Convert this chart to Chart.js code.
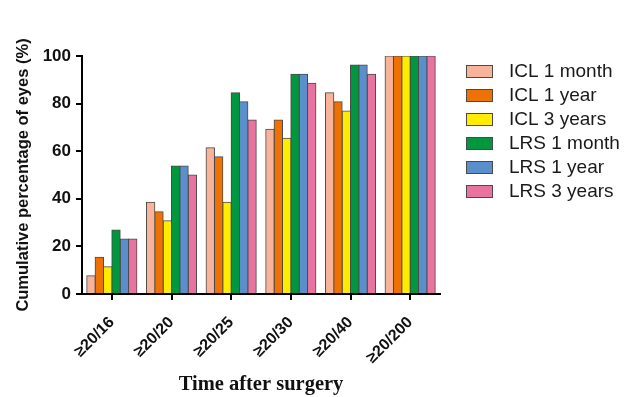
<!DOCTYPE html>
<html>
<head>
<meta charset="utf-8">
<script src="https://cdn.jsdelivr.net/npm/chart.js@4/dist/chart.umd.min.js"></script>
<style>
  html, body { margin: 0; padding: 0; background: #fff; }
  #wrap { width: 624px; height: 397px; position: relative; }
</style>
</head>
<body>
<div id="wrap"><canvas id="c" width="624" height="397"></canvas></div>
<script>
// Visual acuity thresholds (x categories)
const categories = ['≥20/16', '≥20/20', '≥20/25', '≥20/30', '≥20/40', '≥20/200'];

// Series names
const seriesNames = ['ICL 1 month', 'ICL 1 year', 'ICL 3 years', 'LRS 1 month', 'LRS 1 year', 'LRS 3 years'];

// Cumulative percentage of eyes for each series
const icl1Month  = [7.7, 38.5, 61.5, 69.2, 84.6, 100];
const icl1Year   = [15.4, 34.6, 57.7, 73.1, 80.8, 100];
const icl3Years  = [11.5, 30.8, 38.5, 65.4, 76.9, 100];
const lrs1Month  = [26.9, 53.8, 84.6, 92.3, 96.2, 100];
const lrs1Year   = [23.1, 53.8, 80.8, 92.3, 96.2, 100];
const lrs3Years  = [23.1, 50.0, 73.1, 88.5, 92.3, 100];

const yTicks = [0, 20, 40, 60, 80, 100];

const seriesValues = [icl1Month, icl1Year, icl3Years, lrs1Month, lrs1Year, lrs3Years];
const seriesColors = ['#F8B49B', '#EE7203', '#FFEC00', '#00973F', '#5B8FCC', '#E7739E'];

const datasets = seriesNames.map((name, i) => ({
  label: name,
  data: seriesValues[i],
  backgroundColor: seriesColors[i],
  borderColor: '#4a4a4a',
  borderWidth: 1,
  borderSkipped: 'bottom',
  inflateAmount: 0.5,
  barPercentage: 1.0,
  categoryPercentage: 0.84
}));

// Legend drawn to the right of the plot: swatch + label for each dataset
const sideLegend = {
  id: 'sideLegend',
  afterDraw(chart) {
    const ctx = chart.ctx;
    const x0 = chart.chartArea.right + 26;
    const y0 = chart.chartArea.top + 9;
    const rowH = 24;
    ctx.save();
    ctx.font = '19px "Liberation Sans", Arial, sans-serif';
    ctx.textBaseline = 'middle';
    ctx.textAlign = 'left';
    chart.data.datasets.forEach((ds, i) => {
      const y = y0 + i * rowH;
      ctx.fillStyle = ds.backgroundColor;
      ctx.fillRect(x0, y, 27, 13);
      ctx.strokeStyle = '#4a4a4a';
      ctx.lineWidth = 1;
      ctx.strokeRect(x0 + 0.5, y + 0.5, 26, 12);
      ctx.fillStyle = '#1a1a1a';
      ctx.fillText(ds.label, x0 + 43, y + 7);
    });
    ctx.restore();
  }
};

new Chart(document.getElementById('c'), {
  type: 'bar',
  data: { labels: categories, datasets },
  plugins: [sideLegend],
  options: {
    responsive: false,
    animation: false,
    devicePixelRatio: 1,
    layout: { padding: { top: 56, right: 184, left: 9, bottom: 0 } },
    plugins: {
      tooltip: { enabled: false },
      legend: { display: false }
    },
    scales: {
      x: {
        offset: true,
        afterFit: (scale) => { scale.height = 103; },
        border: { display: true, color: '#000', width: 2 },
        grid: { display: true, drawOnChartArea: false, drawTicks: true, tickLength: 6, offset: false, color: '#000', lineWidth: 2 },
        ticks: {
          color: '#111',
          minRotation: 45,
          maxRotation: 45,
          padding: 13,
          font: { family: 'Liberation Sans, Arial, sans-serif', size: 16, weight: 'bold' }
        },
        title: {
          display: true,
          text: 'Time after surgery',
          color: '#111',
          padding: { top: 0, bottom: 0 },
          font: { family: 'Liberation Serif, Times New Roman, serif', size: 20.5, weight: 'bold' }
        }
      },
      y: {
        min: 0,
        max: 100,
        afterFit: (scale) => { scale.width = 73; },
        border: { display: true, color: '#000', width: 2 },
        grid: { display: true, drawOnChartArea: false, drawTicks: true, tickLength: 6, color: '#000', lineWidth: 2 },
        afterBuildTicks: (scale) => { scale.ticks = yTicks.map(v => ({ value: v })); },
        ticks: {
          color: '#111',
          padding: 5,
          font: { family: 'Liberation Sans, Arial, sans-serif', size: 17, weight: 'bold' }
        },
        title: {
          display: true,
          text: 'Cumulative percentage of eyes (%)',
          color: '#111',
          padding: { top: 5, bottom: 8 },
          font: { family: 'Liberation Sans, Arial, sans-serif', size: 16.5, weight: 'bold' }
        }
      }
    }
  }
});
</script>
</body>
</html>
